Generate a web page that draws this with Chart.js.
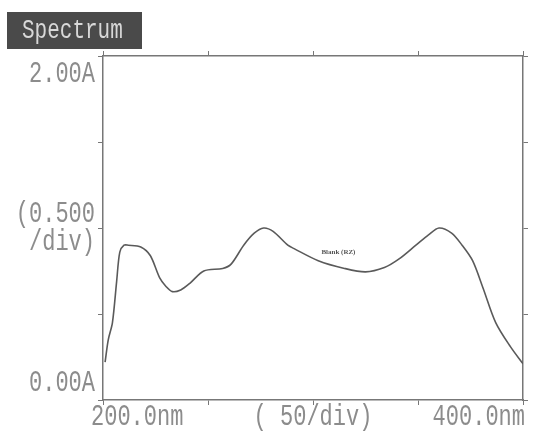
<!DOCTYPE html>
<html><head><meta charset="utf-8">
<script src="https://cdn.jsdelivr.net/npm/chart.js@4/dist/chart.umd.min.js"></script>
<style>html,body{margin:0;padding:0;background:#fff;}canvas{display:block;}</style>
</head><body>
<canvas id="c" width="533" height="434"></canvas>
<script>
const title = "Spectrum";
const wavelengths = [201, 202.5, 204.5, 206.5, 208, 210, 212, 218, 222.5, 227, 230, 233, 237, 241.5, 248, 257, 261, 267, 272, 276.5, 281, 288, 291, 302.5, 315, 325, 334, 341, 349, 355, 360, 366, 371, 376, 381, 387, 394, 400];
const absorbance = [0.22, 0.35, 0.45, 0.69, 0.86, 0.90, 0.90, 0.89, 0.84, 0.71, 0.66, 0.63, 0.64, 0.68, 0.75, 0.765, 0.79, 0.90, 0.97, 1.00, 0.98, 0.90, 0.88, 0.81, 0.765, 0.745, 0.77, 0.82, 0.90, 0.96, 1.00, 0.97, 0.90, 0.81, 0.65, 0.45, 0.31, 0.21];
const xTickValues = [200, 250, 300, 350, 400];
const xTickLabels = ["200.0nm", "", "( 50/div)", "", "400.0nm"];
const yTickValues = [0, 0.5, 1.0, 1.5, 2.0];
const yTickLabels = [["0.00A"], [""], ["(0.500", "/div)"], [""], ["2.00A"]];
const annotation = { x: 304, y: 0.86, text: "Blank (RZ)" };

const textColor = "#8c8c8c";
const axisColor = "#777";

function drawStretched(ctx, txt, x, y, align) {
  ctx.save();
  ctx.font = "22px 'Liberation Mono', monospace";
  ctx.textAlign = align;
  ctx.textBaseline = "middle";
  ctx.fillStyle = textColor;
  ctx.translate(x, y);
  ctx.scale(1, 1.3);
  ctx.fillText(txt, 0, 0);
  ctx.restore();
}

const textPlugin = {
  id: "textPlugin",
  afterDraw(chart) {
    const ctx = chart.ctx;
    const xs = chart.scales.x, ys = chart.scales.y;
    // title box
    ctx.save();
    ctx.fillStyle = "#4a4a4a";
    ctx.fillRect(7, 12, 135, 37);
    ctx.font = "21px 'Liberation Mono', monospace";
    ctx.fillStyle = "#d8d8d8";
    ctx.textBaseline = "middle";
    ctx.translate(22, 31);
    ctx.scale(1, 1.3);
    ctx.fillText(title, 0, 0);
    ctx.restore();
    // y labels
    yTickValues.forEach((v, i) => {
      const lines = yTickLabels[i];
      const py = ys.getPixelForValue(v);
      const n = lines.length;
      lines.forEach((ln, j) => {
        if (!ln) return;
        let yy = py + (j - (n - 1) / 2) * 28;
        if (v === 0) yy = py - 17;
        if (v === 2) yy = py + 18;
        drawStretched(ctx, ln, 95, yy, "right");
      });
    });
    // x labels
    xTickValues.forEach((v, i) => {
      const t = xTickLabels[i];
      if (!t) return;
      const px = xs.getPixelForValue(v);
      let align = "center";
      let xx = px;
      if (i === 0) { align = "left"; xx = px - 12; }
      if (i === xTickValues.length - 1) { align = "right"; xx = px + 2; }
      drawStretched(ctx, t, xx, 417, align);
    });
    // annotation
    ctx.save();
    ctx.font = "bold 7px 'Liberation Serif', serif";
    ctx.fillStyle = "#555";
    ctx.textAlign = "left";
    ctx.textBaseline = "middle";
    ctx.fillText(annotation.text, xs.getPixelForValue(annotation.x), ys.getPixelForValue(annotation.y));
    ctx.restore();
  }
};

function gridOpts() {
  return { display: true, drawOnChartArea: false, drawTicks: true, tickLength: 5, color: axisColor, lineWidth: 1 };
}
function fixed(prop, val) { return function (s) { s[prop] = val; }; }

new Chart(document.getElementById("c"), {
  type: "line",
  data: {
    datasets: [{
      data: wavelengths.map((w, i) => ({ x: w, y: absorbance[i] })),
      borderColor: "#5a5a5a",
      borderWidth: 1.6,
      pointRadius: 0,
      tension: 0.3,
      fill: false
    }]
  },
  options: {
    responsive: false,
    animation: false,
    devicePixelRatio: 1,
    layout: { padding: 0 },
    plugins: { legend: { display: false }, tooltip: { enabled: false } },
    scales: {
      x: {
        type: "linear", position: "bottom", min: 200, max: 400,
        afterBuildTicks: s => { s.ticks = xTickValues.map(v => ({ value: v })); },
        ticks: { display: false },
        grid: gridOpts(),
        border: { display: true, color: axisColor, width: 1.5 },
        afterFit: fixed("height", 34)
      },
      x2: {
        type: "linear", position: "top", min: 200, max: 400,
        afterBuildTicks: s => { s.ticks = xTickValues.map(v => ({ value: v })); },
        ticks: { display: false },
        grid: gridOpts(),
        border: { display: true, color: axisColor, width: 1.5 },
        afterFit: fixed("height", 56)
      },
      y: {
        type: "linear", position: "left", min: 0, max: 2,
        afterBuildTicks: s => { s.ticks = yTickValues.map(v => ({ value: v })); },
        ticks: { display: false },
        grid: gridOpts(),
        border: { display: true, color: axisColor, width: 1.5 },
        afterFit: fixed("width", 103)
      },
      y2: {
        type: "linear", position: "right", min: 0, max: 2,
        afterBuildTicks: s => { s.ticks = yTickValues.map(v => ({ value: v })); },
        ticks: { display: false },
        grid: gridOpts(),
        border: { display: true, color: axisColor, width: 1.5 },
        afterFit: fixed("width", 10)
      }
    }
  },
  plugins: [textPlugin]
});
</script>
</body></html>
